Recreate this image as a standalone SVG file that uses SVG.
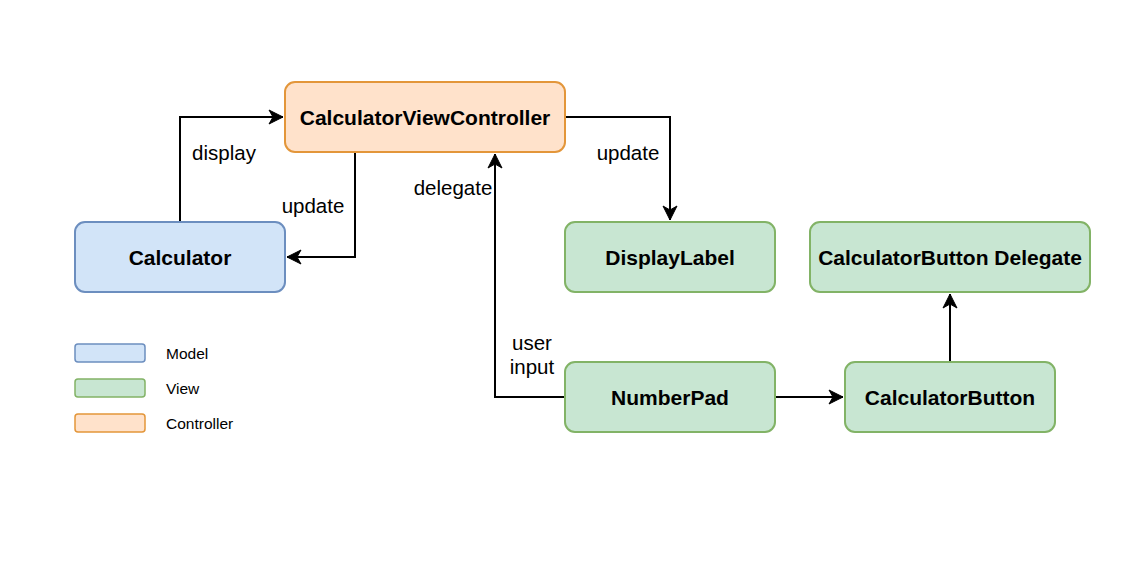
<svg xmlns="http://www.w3.org/2000/svg" width="1147" height="582" viewBox="0 0 1147 582">
<style>
.node rect{stroke-width:2}
.model{fill:#d2e4f8;stroke:#6c8ebf}
.view{fill:#c8e6d2;stroke:#82b366}
.ctrl{fill:#ffe2cb;stroke:#e3963a}
.nt{font-family:"Liberation Sans",Arial,sans-serif;font-size:21px;font-weight:bold;fill:#000;text-anchor:middle}
.lt{font-family:"Liberation Sans",Arial,sans-serif;font-size:20.5px;fill:#000;text-anchor:middle}
.gt{font-family:"Liberation Sans",Arial,sans-serif;font-size:15.5px;fill:#000}
.edge{fill:none;stroke:#000;stroke-width:2}
</style>
<defs>
<marker id="arr" markerUnits="userSpaceOnUse" markerWidth="16" markerHeight="18" viewBox="-15 -9 16 18" refX="0" refY="0" orient="auto">
<path d="M0,0 L-14,-7 L-10,0 L-14,7 Z" fill="#000" stroke="#000" stroke-width="1"/>
</marker>
</defs>
<rect width="1147" height="582" fill="#fff"/>
<g id="connectors">
<path class="edge" d="M180,222 V117 H283" marker-end="url(#arr)"/>
<path class="edge" d="M355,152 V257 H287" marker-end="url(#arr)"/>
<path class="edge" d="M565,117 H670 V220" marker-end="url(#arr)"/>
<path class="edge" d="M565,397 H495 V154" marker-end="url(#arr)"/>
<path class="edge" d="M775,397 H843" marker-end="url(#arr)"/>
<path class="edge" d="M950,362 V294" marker-end="url(#arr)"/>
<text class="lt" x="224" y="160">display</text>
<text class="lt" x="313" y="213">update</text>
<text class="lt" x="628" y="160">update</text>
<text class="lt" x="453" y="195">delegate</text>
<text class="lt" x="532" y="350">user</text>
<text class="lt" x="532" y="374">input</text>
</g>
<g id="cvc" class="node"><rect class="ctrl" x="285" y="82" width="280" height="70" rx="10"/><text class="nt" x="425" y="125">CalculatorViewController</text></g>
<g id="calculator" class="node"><rect class="model" x="75" y="222" width="210" height="70" rx="10"/><text class="nt" x="180" y="265">Calculator</text></g>
<g id="displaylabel" class="node"><rect class="view" x="565" y="222" width="210" height="70" rx="10"/><text class="nt" x="670" y="265">DisplayLabel</text></g>
<g id="cbdelegate" class="node"><rect class="view" x="810" y="222" width="280" height="70" rx="10"/><text class="nt" x="950" y="265">CalculatorButton Delegate</text></g>
<g id="numberpad" class="node"><rect class="view" x="565" y="362" width="210" height="70" rx="10"/><text class="nt" x="670" y="405">NumberPad</text></g>
<g id="calcbutton" class="node"><rect class="view" x="845" y="362" width="210" height="70" rx="10"/><text class="nt" x="950" y="405">CalculatorButton</text></g>
<g id="legend">
<g id="legend-model" class="node"><rect class="model" x="75" y="344" width="70" height="18" rx="3" style="stroke-width:1.5"/><text class="gt" x="166" y="359">Model</text></g>
<g id="legend-view" class="node"><rect class="view" x="75" y="379" width="70" height="18" rx="3" style="stroke-width:1.5"/><text class="gt" x="166" y="394">View</text></g>
<g id="legend-ctrl" class="node"><rect class="ctrl" x="75" y="414" width="70" height="18" rx="3" style="stroke-width:1.5"/><text class="gt" x="166" y="429">Controller</text></g>
</g>
</svg>
